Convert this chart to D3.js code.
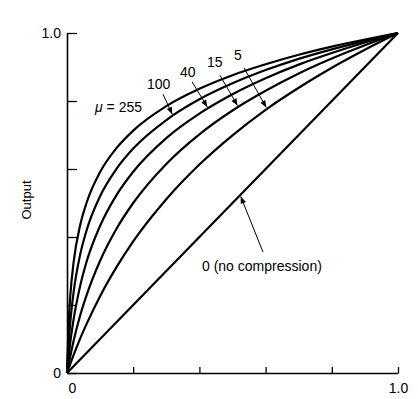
<!DOCTYPE html>
<html>
<head>
<meta charset="utf-8">
<script src="https://cdn.jsdelivr.net/npm/d3@7"></script>
<style>
  body { margin: 0; background: #fff; }
  text { font-family: "Liberation Sans", Arial, sans-serif; fill: #000; }
</style>
</head>
<body>
<div id="chart"></div>
<script>
// input samples (normalised)
var xs = [0, 0.005, 0.01, 0.02, 0.04, 0.06, 0.1, 0.15, 0.2, 0.3, 0.4, 0.5, 0.6, 0.7, 0.8, 0.9, 1.0];

// output at the samples above
var mu255 = [0, 0.148, 0.228, 0.326, 0.436, 0.503, 0.591, 0.662, 0.713, 0.785, 0.836, 0.876, 0.908, 0.936, 0.960, 0.981, 1];
var mu100 = [0, 0.088, 0.150, 0.238, 0.349, 0.422, 0.520, 0.601, 0.660, 0.744, 0.805, 0.852, 0.891, 0.924, 0.952, 0.977, 1];
var mu40  = [0, 0.049, 0.091, 0.158, 0.257, 0.330, 0.433, 0.524, 0.592, 0.691, 0.763, 0.820, 0.867, 0.907, 0.941, 0.972, 1];
var mu15  = [0, 0.026, 0.050, 0.095, 0.170, 0.231, 0.330, 0.425, 0.500, 0.615, 0.702, 0.772, 0.830, 0.881, 0.925, 0.964, 1];
var mu5   = [0, 0.014, 0.027, 0.053, 0.102, 0.146, 0.226, 0.312, 0.387, 0.511, 0.613, 0.699, 0.774, 0.839, 0.898, 0.951, 1];
var mu0x  = [0, 1];
var mu0   = [0, 1];

var series = [
    { mu: 255, x: xs, y: mu255 },
    { mu: 100, x: xs, y: mu100 },
    { mu: 40,  x: xs, y: mu40 },
    { mu: 15,  x: xs, y: mu15 },
    { mu: 5,   x: xs, y: mu5 },
    { mu: 0,   x: mu0x, y: mu0 },
];

var yTicks = [0, 0.2, 0.4, 0.6, 0.8, 1.0];
var xTicks = [0, 0.2, 0.4, 0.6, 0.8, 1.0];

var W = 418, H = 399;
var svg = d3.select('#chart').append('svg')
    .attr('width', W).attr('height', H);

var x = d3.scaleLinear().domain([0, 1]).range([67, 398]);
var y = d3.scaleLinear().domain([0, 1]).range([373, 33]);

var defs = svg.append('defs');
defs.append('marker')
    .attr('id', 'head')
    .attr('viewBox', '0 0 10 10')
    .attr('refX', 10).attr('refY', 5)
    .attr('markerUnits', 'userSpaceOnUse')
    .attr('markerWidth', 9).attr('markerHeight', 7)
    .attr('orient', 'auto')
  .append('path')
    .attr('d', 'M0,1 L10,5 L0,9 Z')
    .attr('fill', '#000');

// axes
var yAxis = d3.axisLeft(y)
    .tickValues(yTicks)
    .tickSizeInner(-10).tickSizeOuter(0).tickPadding(6)
    .tickFormat(function(d) { return d == 0 ? '0' : d == 1 ? '1.0' : ''; });
var xAxis = d3.axisBottom(x)
    .tickValues(xTicks)
    .tickSizeInner(-6).tickSizeOuter(0).tickPadding(10)
    .tickFormat(function(d) { return d == 0 ? '0' : d == 1 ? '1.0' : ''; });

var gy = svg.append('g').attr('transform', 'translate(67,0)').call(yAxis);
var gx = svg.append('g').attr('transform', 'translate(0,373)').call(xAxis);
[gy, gx].forEach(function(g) {
    g.select('.domain').attr('stroke', '#000').attr('stroke-width', 1.6);
    g.selectAll('.tick line').attr('stroke', '#000').attr('stroke-width', 1.3);
    g.selectAll('.tick text')
        .attr('font-family', '"Liberation Sans", Arial, sans-serif')
        .attr('font-size', 14).attr('fill', '#000');
});
gx.selectAll('.tick').filter(function(d) { return d == 0; }).select('line').remove();
gx.selectAll('.tick text').attr('dx', function(d) { return d == 0 ? 5 : 0; });

svg.append('text')
    .attr('transform', 'translate(31,200) rotate(-90)')
    .attr('text-anchor', 'middle')
    .attr('font-size', 13)
    .text('Output');

// curves
var line = d3.line()
    .x(function(p) { return x(p[0]); })
    .y(function(p) { return y(p[1]); })
    .curve(d3.curveMonotoneX);

svg.append('g').selectAll('path')
    .data(series)
    .enter()
    .append('path')
    .attr('d', function(s) { return line(s.x.map(function(v, i) { return [v, s.y[i]]; })); })
    .attr('fill', 'none')
    .attr('stroke', '#000')
    .attr('stroke-width', 2.2)
    .attr('stroke-linejoin', 'round');

// labels with arrows: tail (tx, ty) and where the head hits the curve (hx)
var notes = [
    { mu: 100, text: '100', lx: 147, ly: 89, tx: 0.290, ty: 0.820, hx: 0.318 },
    { mu: 40,  text: '40',  lx: 180, ly: 77, tx: 0.378, ty: 0.856, hx: 0.424 },
    { mu: 15,  text: '15',  lx: 207, ly: 67, tx: 0.462, ty: 0.876, hx: 0.515 },
    { mu: 5,   text: '5',   lx: 234, ly: 60, tx: 0.535, ty: 0.897, hx: 0.602 },
    { mu: 0,   text: '0 (no compression)', lx: 202, ly: 271, tx: 0.592, ty: 0.356, hx: 0.525 },
];

function onCurve(mu, xv) {
    var s = series.filter(function(d) { return d.mu == mu; })[0];
    for (var i = 1; i < s.x.length; i++) {
        if (xv <= s.x[i]) {
            var t = (xv - s.x[i-1]) / (s.x[i] - s.x[i-1]);
            return s.y[i-1] + t * (s.y[i] - s.y[i-1]);
        }
    }
    return 1;
}

var ng = svg.append('g');
notes.forEach(function(n) {
    ng.append('line')
        .attr('x1', x(n.tx)).attr('y1', y(n.ty))
        .attr('x2', x(n.hx)).attr('y2', y(onCurve(n.mu, n.hx)) + (n.mu == 0 ? 2 : -2))
        .attr('stroke', '#000')
        .attr('stroke-width', 1)
        .attr('marker-end', 'url(#head)');
    ng.append('text')
        .attr('x', n.lx).attr('y', n.ly)
        .attr('font-size', 14)
        .text(n.text);
});

var t255 = ng.append('text').attr('x', 95).attr('y', 112).attr('font-size', 14);
t255.append('tspan').attr('font-style', 'italic').text('\u03bc');
t255.append('tspan').text(' = 255');
</script>
</body>
</html>
